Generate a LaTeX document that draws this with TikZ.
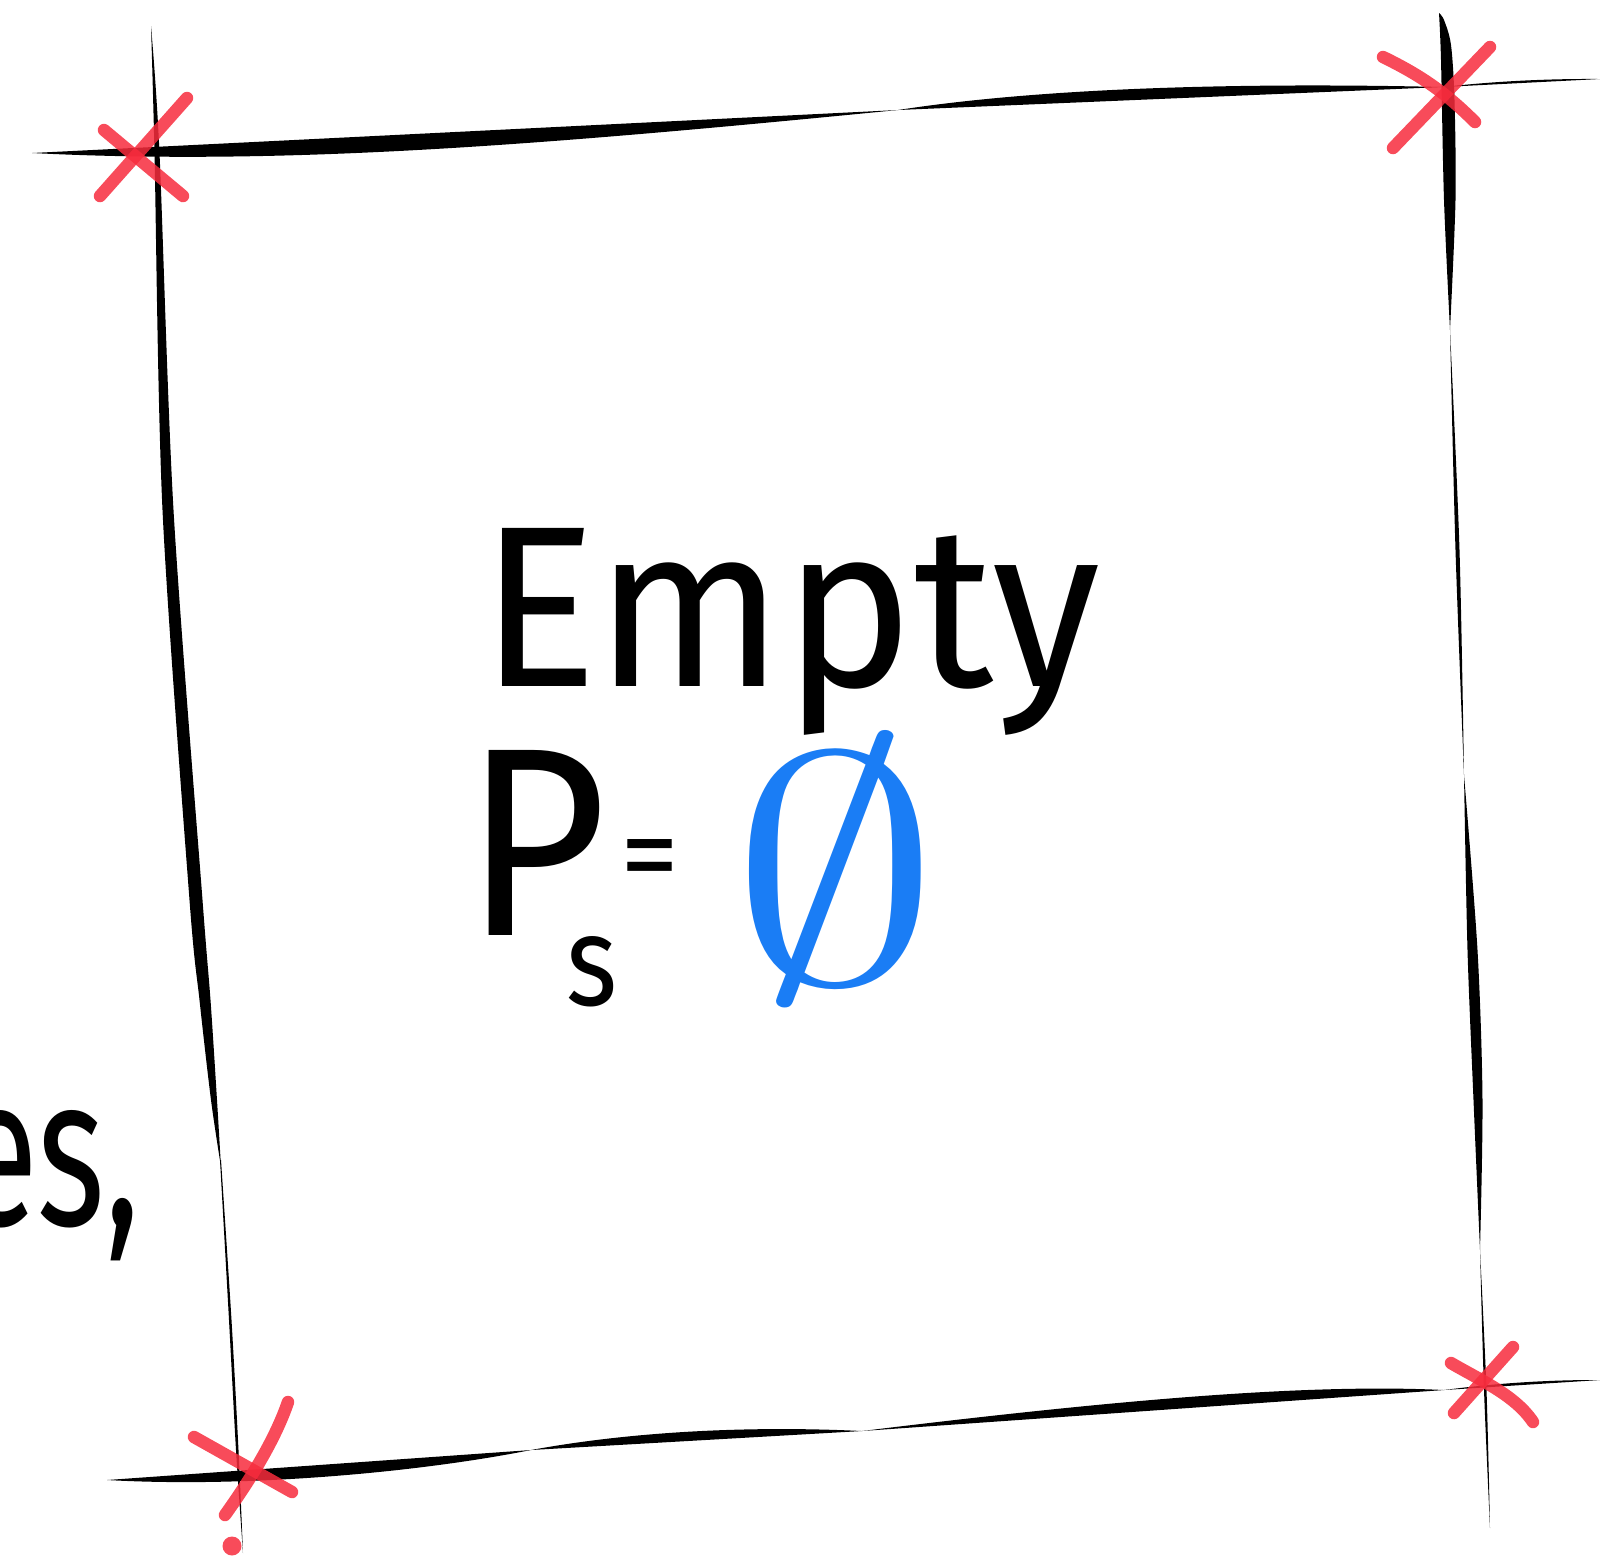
\documentclass[tikz,border=0pt]{standalone}
\usepackage{graphicx}
\usepackage{fontspec}
\setmainfont{Fira Sans}
\definecolor{xred}{RGB}{247,44,61}
\definecolor{setblue}{RGB}{26,125,245}
\begin{document}
\begin{tikzpicture}[x=0.1mm,y=-0.1mm,
  cross/.style={draw=xred, line width=1.25mm, line cap=round, opacity=0.85},
  ink/.style={fill=black},
  hand/.style={inner sep=0pt, outer sep=0pt, anchor=north west, text=black},
]
\useasboundingbox (0,0) rectangle (1600,1556);
\clip (0,0) rectangle (1600,1556);

% ---- frame: top edge
\fill[ink] (32,153) -- (898,110) .. controls (552,144) and (292,166) .. (32,153) -- cycle;
\fill[ink] (898,110) -- (1443,87) .. controls (1225,82) and (1034,89) .. (898,110) -- cycle;
\fill[ink] (1443,87) -- (1600,79) .. controls (1548,78.6) and (1495,81.2) .. (1443,87) -- cycle;
% ---- frame: left edge
\fill[ink] plot[smooth] coordinates {(151,26) (154.5,153) (162.5,510) (189.5,900) (199.5,1000) (211,1100) (221,1167)}
  -- plot[smooth] coordinates {(221,1167) (217,1100) (210.5,1000) (202.5,900) (173.5,510) (159.5,153) (151,26)} -- cycle;
\fill[ink] plot[smooth] coordinates {(220,1160) (229,1320) (236,1450) (243,1553)}
  -- plot[smooth] coordinates {(243,1553) (238.5,1450) (231.5,1320) (221,1160)} -- cycle;
% ---- frame: right edge
\fill[ink] plot[smooth] coordinates {(1439,13) (1441,60) (1444,200) (1450,330)}
  -- plot[smooth] coordinates {(1450,330) (1455.5,200) (1454.5,100) (1451,45) (1444,20) (1439,13)} -- cycle;
\fill[ink] plot[smooth] coordinates {(1450,330) (1455.5,550) (1464,775)}
  -- plot[smooth] coordinates {(1464,775) (1459.5,550) (1450,330)} -- cycle;
\fill[ink] plot[smooth] coordinates {(1464,775) (1467.5,950) (1473.5,1100) (1480,1250)}
  -- plot[smooth] coordinates {(1480,1250) (1482.5,1100) (1477.5,950) (1464,775)} -- cycle;
\fill[ink] plot[smooth] coordinates {(1480,1250) (1484,1390) (1490,1528)}
  -- plot[smooth] coordinates {(1490,1528) (1486.5,1390) (1480,1250)} -- cycle;
% ---- frame: bottom edge
\fill[ink] (107,1480) -- (531,1450) .. controls (420,1472) and (250,1488) .. (107,1480) -- cycle;
\fill[ink] (531,1450) -- (862,1431) .. controls (760,1426) and (640,1430) .. (531,1450) -- cycle;
\fill[ink] (862,1431) -- (1444,1390) .. controls (1300,1383) and (1100,1402) .. (862,1431) -- cycle;
\fill[ink] (1444,1390) -- (1600,1380) .. controls (1548,1379.8) and (1496,1383.2) .. (1444,1390) -- cycle;

% ---- red crosses at the corners
\draw[cross] (104,130) -- (183,196);
\draw[cross] (187,98) -- (100,196);
\draw[cross] (1383,57) .. controls (1420,75) and (1445,92) .. (1475,122);
\draw[cross] (1490,47) -- (1393,148);
\draw[cross] (194,1437) -- (292,1492);
\draw[cross] (288,1402) .. controls (275,1440) and (250,1480) .. (225,1515);
\fill[xred, opacity=0.85] (232,1546) circle (9.5);
\draw[cross] (1451,1363) .. controls (1480,1380) and (1515,1395) .. (1533,1422);
\draw[cross] (1513,1347) -- (1454,1413);

% ---- text
\node[hand] (empty) at (480,528) {\resizebox*{62mm}{20.7mm}{Empty}};
\node[inner sep=0pt, outer sep=0pt, anchor=base west] (eqn) at (464,935)
  {\resizebox{14.3mm}{18.5mm}{P}\hspace{-4.1mm}%
   \raisebox{-7mm}{\resizebox{5.1mm}{6.9mm}{s}}\hspace{0.3mm}%
   \raisebox{4.1mm}{\resizebox{5.9mm}{!}{=}}\hspace{5mm}%
   \raisebox{-4.7mm}{\textcolor{setblue}{\resizebox*{21.2mm}{26.3mm}{$\emptyset$}}}};
\node[hand] (frag) at (-41,1110) {\resizebox{18.1mm}{11.5mm}{es,}};
\end{tikzpicture}
\end{document}
